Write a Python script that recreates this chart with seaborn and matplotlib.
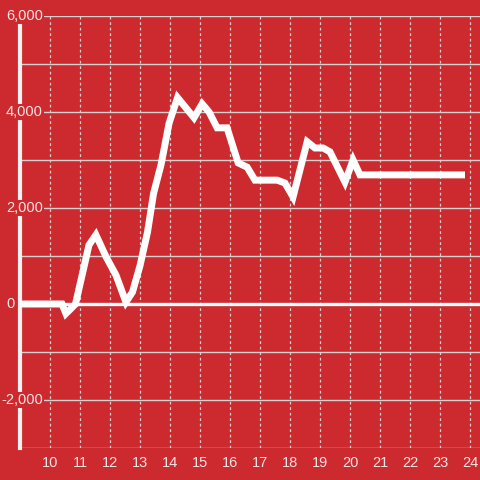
import matplotlib
matplotlib.use("Agg")
import matplotlib.pyplot as plt
import seaborn as sns
import pandas as pd

# hours of the day and running balance
hours = [9.0, 10.4, 10.53, 10.85, 11.3, 11.53, 11.87, 12.2, 12.53, 12.75, 13.0,
         13.25, 13.45, 13.7, 13.97, 14.25, 14.8, 15.07, 15.3, 15.57, 15.9,
         16.27, 16.57, 16.83, 17.57, 17.83, 18.1, 18.57, 18.83, 19.1, 19.33,
         19.83, 20.1, 20.33, 23.83]
balance = [0, 0, -200, 0, 1230, 1440, 980, 600, 40, 250, 800,
           1500, 2300, 2900, 3770, 4300, 3880, 4170, 4000, 3670, 3670,
           2940, 2850, 2580, 2580, 2520, 2230, 3380, 3250, 3250, 3170,
           2540, 3000, 2690, 2690]
x_ticks = list(range(10, 25))
y_ticks = [-2000, 0, 2000, 4000, 6000]
y_labels = ["-2,000", "0", "2,000", "4,000", "6,000"]

bg = "#cc2a2f"
grid_col = "#d6d0d0"
txt_col = "#f6e4e4"

sns.set_style("white")
plt.rcParams["font.family"] = ["Liberation Sans", "DejaVu Sans"]

df = pd.DataFrame({"hour": hours, "balance": balance})

fig = plt.figure(figsize=(4.8, 4.8), dpi=100)
fig.patch.set_facecolor(bg)
ax = fig.add_axes([20 / 480, 32 / 480, 460 / 480, 432 / 480])
ax.set_facecolor(bg)

# grid
for v in range(-3000, 6001, 1000):
    ax.axhline(v, color=grid_col, lw=1, zorder=1)
for t in x_ticks:
    ax.axvline(t, color=grid_col, lw=0.9, linestyle=(0, (2.2, 2.2)), zorder=1)
ax.axhline(0, color="white", lw=2.4, zorder=2)

sns.lineplot(data=df, x="hour", y="balance", color="white", lw=5,
             solid_capstyle="butt", solid_joinstyle="miter", ax=ax, zorder=3)

ax.set_xlim(9, 24.33)
ax.set_ylim(-3000, 6000)
ax.set_xlabel("")
ax.set_ylabel("")
ax.set_xticks(x_ticks)
ax.set_xticklabels([str(t) for t in x_ticks])
ax.tick_params(axis="x", length=0, pad=6, labelsize=10.5, colors=txt_col)
ax.set_yticks([])

for s in ["top", "right", "bottom"]:
    ax.spines[s].set_visible(False)
ax.spines["left"].set_color("#f2f0f0")
ax.spines["left"].set_linewidth(3)

# y labels drawn over the spine; the zero label sits left of it
for v, lab in zip(y_ticks, y_labels):
    right_px = 15 if v == 0 else 43
    ax.text((right_px - 20) / 460, v, lab, transform=ax.get_yaxis_transform(),
            ha="right", va="center", fontsize=10.5, color=txt_col, zorder=5,
            bbox=dict(boxstyle="square,pad=0.1", fc=bg, ec="none"))

fig.savefig("out.png", dpi=100, facecolor=bg)
